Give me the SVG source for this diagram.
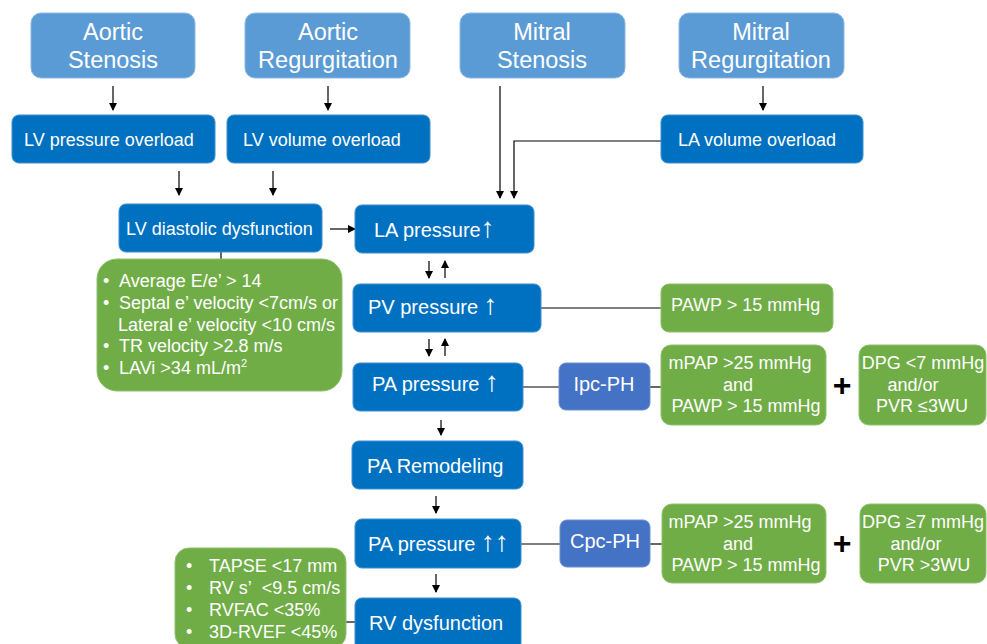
<svg xmlns="http://www.w3.org/2000/svg" width="987" height="644" viewBox="0 0 987 644">
<defs>
<marker id="ah" markerUnits="userSpaceOnUse" markerWidth="8" markerHeight="8" refX="7" refY="4" orient="auto">
<path d="M0,0 L8,4 L0,8 z" fill="#000"/>
</marker>
<style>
text{font-family:"Liberation Sans",Arial,sans-serif;fill:#fff}
.lb{fill:#5B9BD5;stroke:#8DB8E3;stroke-width:1}
.db{fill:#0070C0;stroke:#3A8FD0;stroke-width:1}
.gb{fill:#70AD47;stroke:#8FC06D;stroke-width:1}
.pb{fill:#4472C4;stroke:#6B90D2;stroke-width:1}
.t23{font-size:23.5px;text-anchor:middle}
.t17{font-size:18px}
.t20{font-size:20px}
.c{text-anchor:middle}
.up{font-size:28px}
.ln{stroke:#000;stroke-width:1.2;fill:none}
.ar{stroke:#000;stroke-width:1.2;fill:none;marker-end:url(#ah)}
.plus{font-size:32px;fill:#000;text-anchor:middle;font-weight:bold}
</style>
</defs>
<g id="connectors">
<line class="ar" x1="113" y1="86" x2="113" y2="110"/>
<line class="ar" x1="328" y1="86" x2="328" y2="110"/>
<line class="ar" x1="763" y1="86" x2="763" y2="110"/>
<line class="ar" x1="179" y1="171" x2="179" y2="195"/>
<line class="ar" x1="273" y1="171" x2="273" y2="195"/>
<line class="ar" x1="500" y1="86" x2="500" y2="198"/>
<polyline class="ar" points="662,141 514,141 514,198"/>
<line class="ar" x1="330" y1="229" x2="355" y2="229"/>
<line class="ar" x1="429" y1="261" x2="429" y2="278"/>
<line class="ar" x1="445" y1="278" x2="445" y2="261"/>
<line class="ar" x1="429" y1="339" x2="429" y2="356"/>
<line class="ar" x1="445" y1="356" x2="445" y2="339"/>
<line class="ln" x1="541" y1="308" x2="661" y2="308"/>
<line class="ln" x1="523" y1="387" x2="559" y2="387"/>
<line class="ln" x1="650" y1="387" x2="661" y2="387"/>
<line class="ar" x1="441" y1="420" x2="441" y2="435"/>
<line class="ar" x1="436" y1="496" x2="436" y2="513"/>
<line class="ln" x1="521" y1="544" x2="560" y2="544"/>
<line class="ln" x1="650" y1="544" x2="662" y2="544"/>
<line class="ar" x1="436" y1="574" x2="436" y2="592"/>
<line class="ln" x1="346" y1="622" x2="355" y2="622"/>
<line class="ln" x1="221" y1="252" x2="221" y2="259"/>
</g>
<g id="aortic-stenosis">
<rect class="lb" x="31" y="13" width="164" height="65" rx="10"/>
<text class="t23" x="113" y="40">Aortic</text>
<text class="t23" x="113" y="68">Stenosis</text>
</g>
<g id="aortic-regurgitation">
<rect class="lb" x="245" y="13" width="165" height="65" rx="10"/>
<text class="t23" x="328" y="40">Aortic</text>
<text class="t23" x="328" y="68">Regurgitation</text>
</g>
<g id="mitral-stenosis">
<rect class="lb" x="460" y="13" width="165" height="65" rx="10"/>
<text class="t23" x="542" y="40">Mitral</text>
<text class="t23" x="542" y="68">Stenosis</text>
</g>
<g id="mitral-regurgitation">
<rect class="lb" x="679" y="13" width="165" height="65" rx="10"/>
<text class="t23" x="761" y="40">Mitral</text>
<text class="t23" x="761" y="68">Regurgitation</text>
</g>
<g id="lv-pressure-overload">
<rect class="db" x="12" y="115" width="203" height="48" rx="7"/>
<text class="t17" x="24" y="146">LV pressure overload</text>
</g>
<g id="lv-volume-overload">
<rect class="db" x="227" y="115" width="203" height="48" rx="7"/>
<text class="t17" x="243" y="146">LV volume overload</text>
</g>
<g id="la-volume-overload">
<rect class="db" x="661" y="115" width="202" height="48" rx="7"/>
<text class="t17" x="678" y="146">LA volume overload</text>
</g>
<g id="lv-diastolic-dysfunction">
<rect class="db" x="119" y="204" width="203" height="48" rx="7"/>
<text class="t17" x="126" y="235">LV diastolic dysfunction</text>
</g>
<g id="la-pressure">
<rect class="db" x="355" y="205" width="179" height="48" rx="7"/>
<text class="t20" x="374" y="237">LA pressure<tspan class="up">↑</tspan></text>
</g>
<g id="lv-criteria">
<rect class="gb" x="97" y="259" width="245" height="132" rx="20"/>
<text class="t17" x="103" y="287">•</text><text class="t17" x="119" y="287">Average E/e’ &gt; 14</text>
<text class="t17" x="103" y="309">•</text><text class="t17" x="119" y="309">Septal e’ velocity &lt;7cm/s or</text>
<text class="t17" x="118" y="331">Lateral e’ velocity &lt;10 cm/s</text>
<text class="t17" x="103" y="352">•</text><text class="t17" x="119" y="352">TR velocity &gt;2.8 m/s</text>
<text class="t17" x="103" y="374">•</text><text class="t17" x="119" y="374">LAVi &gt;34 mL/m<tspan font-size="11" dy="-7">2</tspan></text>
</g>
<g id="pv-pressure">
<rect class="db" x="353" y="284" width="188" height="48" rx="7"/>
<text class="t20" x="368" y="314">PV pressure <tspan class="up">↑</tspan></text>
</g>
<g id="pawp">
<rect class="gb" x="661" y="284" width="172" height="48" rx="8"/>
<text class="t17" x="671" y="311">PAWP &gt; 15 mmHg</text>
</g>
<g id="pa-pressure">
<rect class="db" x="353" y="363" width="170" height="48" rx="7"/>
<text class="t20" x="372" y="391">PA pressure <tspan class="up">↑</tspan></text>
</g>
<g id="ipc-ph">
<rect class="pb" x="559" y="363" width="91" height="47" rx="7"/>
<text class="t20 c" x="604" y="391">Ipc-PH</text>
</g>
<g id="ipc-criteria">
<rect class="gb" x="661" y="345" width="165" height="80" rx="10"/>
<text class="t17 c" x="740" y="369">mPAP &gt;25 mmHg</text>
<text class="t17 c" x="738" y="391">and</text>
<text class="t17 c" x="746" y="412">PAWP &gt; 15 mmHg</text>
</g>
<text class="plus" x="842" y="396">+</text>
<g id="ipc-dpg">
<rect class="gb" x="859" y="345" width="127" height="80" rx="10"/>
<text class="t17 c" x="923" y="369">DPG &lt;7 mmHg</text>
<text class="t17 c" x="913" y="391">and/or</text>
<text class="t17 c" x="922" y="412">PVR ≤3WU</text>
</g>
<g id="pa-remodeling">
<rect class="db" x="352" y="441" width="171" height="48" rx="7"/>
<text class="t20" x="367" y="473">PA Remodeling</text>
</g>
<g id="pa-pressure-2">
<rect class="db" x="355" y="519" width="166" height="49" rx="7"/>
<text class="t20" x="368" y="551">PA pressure <tspan class="up">↑↑</tspan></text>
</g>
<g id="cpc-ph">
<rect class="pb" x="560" y="520" width="90" height="47" rx="7"/>
<text class="t20 c" x="605" y="548">Cpc-PH</text>
</g>
<g id="cpc-criteria">
<rect class="gb" x="662" y="504" width="164" height="79" rx="10"/>
<text class="t17 c" x="740" y="528">mPAP &gt;25 mmHg</text>
<text class="t17 c" x="738" y="550">and</text>
<text class="t17 c" x="746" y="571">PAWP &gt; 15 mmHg</text>
</g>
<text class="plus" x="842" y="554">+</text>
<g id="cpc-dpg">
<rect class="gb" x="860" y="504" width="126" height="79" rx="10"/>
<text class="t17 c" x="923" y="528">DPG ≥7 mmHg</text>
<text class="t17 c" x="916" y="550">and/or</text>
<text class="t17 c" x="924" y="571">PVR &gt;3WU</text>
</g>
<g id="rv-dysfunction">
<rect class="db" x="355" y="598" width="166" height="52" rx="7"/>
<text class="t20" x="369" y="630">RV dysfunction</text>
</g>
<g id="rv-criteria">
<rect class="gb" x="175" y="548" width="171" height="100" rx="14"/>
<text class="t17" x="186" y="572">•</text><text class="t17" x="209" y="572">TAPSE &lt;17 mm</text>
<text class="t17" x="186" y="594">•</text><text class="t17" x="209" y="594">RV s’&#160; &lt;9.5 cm/s</text>
<text class="t17" x="186" y="616">•</text><text class="t17" x="209" y="616">RVFAC &lt;35%</text>
<text class="t17" x="186" y="638">•</text><text class="t17" x="209" y="638">3D-RVEF &lt;45%</text>
</g>
</svg>
